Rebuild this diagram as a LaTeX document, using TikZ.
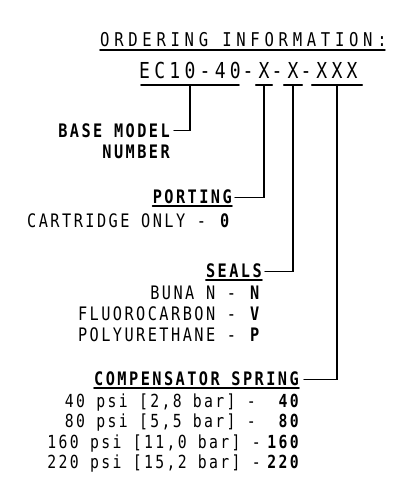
\documentclass[tikz,border=0pt]{standalone}
\usepackage{fontspec}
\setmainfont{DejaVu Sans Mono}[FakeStretch=0.82,LetterSpace=13.2]
\newfontfamily\titlefont{DejaVu Sans Mono}[FakeStretch=0.82,LetterSpace=24.8]
\newfontfamily\codefont{DejaVu Sans Mono}[FakeStretch=0.82,LetterSpace=19.4]

\begin{document}
\begin{tikzpicture}
		[x=1pt,y=-1pt,line cap=round,
		%Styles
		body text/.style={inner sep=0pt,font=\fontsize{18.6}{22}\selectfont},
		value text/.style={inner sep=0pt,font=\fontsize{18.6}{22}\selectfont\bfseries},
		row text/.style={inner sep=0pt,font=\fontsize{18}{22}\selectfont},
		row value/.style={inner sep=0pt,font=\fontsize{18}{22}\selectfont\bfseries},
		heading/.style={inner sep=0pt,text depth=3pt,font=\fontsize{18.6}{22}\selectfont\bfseries},
		code part/.style={inner sep=0pt,text depth=7pt,font=\codefont\fontsize{22}{26}\selectfont},
		under line/.style={line width=1.6pt},
		leader line/.style={line width=1.2pt}
		]
		
		\useasboundingbox (0,0) rectangle (405,499);
		
		%Title and model code
		\node[anchor=base west,inner sep=0pt,text depth=3.5pt,font=\titlefont\fontsize{19}{23}\selectfont] (title) at (100,46) {ORDERING INFORMATION:};
		\draw[under line] (title.south west) -- ([xshift=-2pt]title.south east);
		
		\node[code part,anchor=base,minimum width=96pt] (cbase) at (190,78) {EC10-40};
		\node[code part,anchor=base] (dasha) at (248,78) {-};
		\node[code part,anchor=base,minimum width=16pt] (cport) at (264,78) {X};
		\node[code part,anchor=base] (dashb) at (277,78) {-};
		\node[code part,anchor=base,minimum width=18pt] (cseal) at (293,78) {X};
		\node[code part,anchor=base] (dashc) at (306,78) {-};
		\node[code part,anchor=base,minimum width=50pt] (cspring) at (337,78) {XXX};
		
		\draw[under line,shorten <=2pt,shorten >=2pt] (cbase.south west) -- (cbase.south east);
		\draw[under line] (cport.south west) -- (cport.south east);
		\draw[under line] (cseal.south west) -- (cseal.south east);
		\draw[under line] (cspring.south west) -- (cspring.south east);
		
		%Base model
		\node[value text,anchor=base east] (basemodel) at (170,137) {BASE MODEL};
		\node[value text,anchor=base east] (basenumber) at (170,158) {NUMBER};
		
		%Porting
		\node[heading,anchor=base east] (porting) at (232,203) {PORTING};
		\draw[under line] (porting.south west) -- (porting.south east);
		\node[body text,anchor=base east] (cartridge) at (232,227) {CARTRIDGE ONLY - \textbf{0}};
		
		%Seals
		\node[heading,anchor=base east] (seals) at (262,277) {SEALS};
		\draw[under line] (seals.south west) -- (seals.south east);
		\node[body text,anchor=base east] (buna) at (262,299) {BUNA N - \textbf{N}};
		\node[body text,anchor=base east] (fluoro) at (262,320) {FLUOROCARBON - \textbf{V}};
		\node[body text,anchor=base east] (poly) at (262,341) {POLYURETHANE - \textbf{P}};
		
		%Compensator spring
		\node[heading,anchor=base east] (spring) at (299,385) {COMPENSATOR SPRING};
		\draw[under line] (spring.south west) -- (spring.south east);
		\node[row text,anchor=base east] (springa) at (256,407) {40 psi [2,8 bar] -};
		\node[row value,anchor=base east] (springaval) at (299,407) {40};
		\node[row text,anchor=base east] (springb) at (256,427.5) {80 psi [5,5 bar] -};
		\node[row value,anchor=base east] (springbval) at (299,427.5) {80};
		\node[row text,anchor=base east] (springc) at (261,448) {160 psi [11,0 bar] -};
		\node[row value,anchor=base east] (springcval) at (299,448) {160};
		\node[row text,anchor=base east] (springd) at (261,468.5) {220 psi [15,2 bar] -};
		\node[row value,anchor=base east] (springdval) at (299,468.5) {220};
		
		%Leaders
		\draw[leader line] (cbase.south) |- ([xshift=4pt]basemodel.east);
		\draw[leader line] (cport.south) |- ([xshift=3pt]porting.east);
		\draw[leader line] (cseal.south) |- ([xshift=3pt]seals.east);
		\draw[leader line] (cspring.south) |- ([xshift=5pt]spring.east);
	\end{tikzpicture}
\end{document}
